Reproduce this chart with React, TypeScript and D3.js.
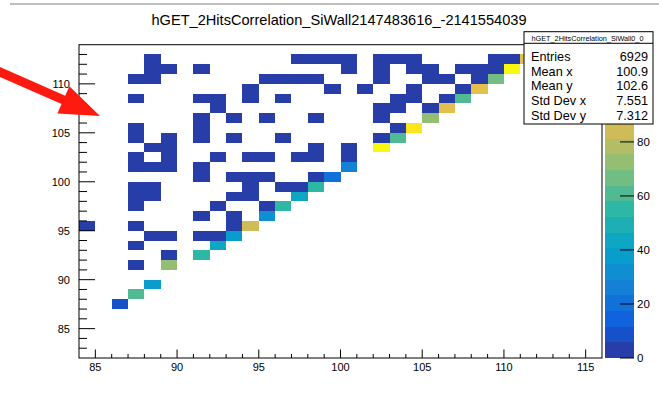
import React from "react";
import * as d3 from "d3";

// ---- histogram description ----
const titleText = "hGET_2HitsCorrelation_SiWall2147483616_-2141554039";
const statsName = "hGET_2HitsCorrelation_SiWall0_0";
const statsLabels = ["Entries", "Mean x", "Mean y", "Std Dev x", "Std Dev y"];
const statsValues = ["6929", "100.9", "102.6", "7.551", "7.312"];

const xDomain = [84, 116];
const yDomain = [82, 114];
const zMax = 116;
const nContours = 20;
const xTickValues = [85, 90, 95, 100, 105, 110, 115];
const yTickValues = [85, 90, 95, 100, 105, 110];
const zTickValues = [0, 20, 40, 60, 80, 100];

// Populated bins with large counts (lower bin edges x, y and content)
const hotX = [86, 87, 88, 89, 91, 92, 93, 94, 95, 96, 97, 98, 99, 100, 102, 103, 104, 105, 106, 107, 108, 109, 110, 111];
const hotY = [87, 88, 89, 91, 92, 93, 94, 95, 96, 97, 98, 99, 100, 101, 103, 104, 105, 106, 107, 108, 109, 110, 111, 112];
const hotN = [9, 61, 38, 73, 54, 43, 39, 84, 32, 55, 44, 56, 20, 26, 116, 60, 107, 72, 89, 62, 90, 67, 113, 91];

// Sparsely populated bins: one row of y per entry, listing the filled x bins
const sparseRowY = [112, 111, 110, 109, 108, 107, 106, 105, 104, 103, 102, 101, 100, 99, 98, 97, 96, 95, 94, 93, 92, 91];
const sparseRowX = [
  [88, 97, 98, 99, 100, 102, 103, 104, 109, 110],
  [88, 89, 91, 100, 102, 104, 105, 107, 108, 109],
  [87, 88, 95, 96, 97, 98, 102, 105, 106, 108],
  [94, 99, 101, 104, 107],
  [87, 91, 92, 94, 96, 103, 104, 106],
  [92, 102, 103, 105],
  [91, 93, 95, 98, 102],
  [87, 91, 103],
  [87, 89, 91, 93, 96, 102],
  [88, 89, 98, 100],
  [87, 89, 92, 94, 95, 97, 98, 100],
  [87, 88, 89, 91],
  [91, 93, 94, 95, 98],
  [87, 88, 94, 96, 97],
  [87, 88, 93, 94],
  [87, 92, 95],
  [91, 93],
  [84, 87, 93],
  [88, 89, 91, 92],
  [87],
  [89],
  [87],
];
const sparseN = 2;

// kBird palette stops
const birdStops = [0.0, 0.125, 0.25, 0.375, 0.5, 0.625, 0.75, 0.875, 1.0];
const birdRed = [0.2082, 0.0592, 0.078, 0.0232, 0.1802, 0.5301, 0.8186, 0.9956, 0.9764];
const birdGreen = [0.1664, 0.3599, 0.5041, 0.6419, 0.7178, 0.7492, 0.7328, 0.7862, 0.9832];
const birdBlue = [0.5293, 0.8684, 0.8385, 0.7914, 0.6425, 0.4662, 0.3499, 0.1968, 0.0539];

type Cell = { x: number; y: number; n: number };

const cells: Cell[] = [];
sparseRowY.forEach((y, i) => sparseRowX[i].forEach((x) => cells.push({ x, y, n: sparseN })));
hotX.forEach((x, i) => cells.push({ x, y: hotY[i], n: hotN[i] }));

const W = 659;
const H = 396;
const frame = { left: 79, right: 602, top: 44.7, bottom: 358 };
const bar = { left: 605, right: 634 };
const FONT = "'Liberation Sans', Arial, Helvetica, sans-serif";

export default function App() {
  const xScale = d3.scaleLinear().domain(xDomain).range([frame.left, frame.right]);
  const yScale = d3.scaleLinear().domain(yDomain).range([frame.bottom, frame.top]);
  const zScale = d3.scaleLinear().domain([0, zMax]).range([frame.bottom, frame.top]);

  const palette = d3
    .scaleLinear<string>()
    .domain(birdStops)
    .range(birdStops.map((_, i) => d3.rgb(birdRed[i] * 255, birdGreen[i] * 255, birdBlue[i] * 255).toString()))
    .interpolate(d3.interpolateRgb);
  const bandOf = d3.scaleQuantize<number>().domain([0, zMax]).range(d3.range(nContours));
  const bandColor = (b: number) => palette(Math.floor(((b + 0.99) * 255) / nContours) / 255);

  const xMinor = d3.range(xDomain[0] + 1, xDomain[1]);
  const yMinor = d3.range(yDomain[0] + 1, yDomain[1]);
  const bands = d3.range(nContours);
  const bandStep = zMax / nContours;

  const statsBox = { left: 524, right: 653, top: 31.7, bottom: 124, sep: 43.3 };
  const statsBaselines = [61, 75.5, 90, 105, 120];
  // palette labels hidden under the statistics box are not written
  const zLabelValues = zTickValues.filter((v) => zScale(v) - 5 > statsBox.bottom);

  // annotation arrow
  const tail = [0, 72];
  const tip = [100, 116];
  const dx = tip[0] - tail[0];
  const dy = tip[1] - tail[1];
  const len = Math.hypot(dx, dy);
  const ux = dx / len, uy = dy / len;
  const px = -uy, py = ux;
  const headLen = 40, headHalf = 15, shaftHalf = 4.5;
  const bx = tip[0] - ux * headLen, by = tip[1] - uy * headLen;
  const arrowPts = [
    [tail[0] + px * shaftHalf - ux * 20, tail[1] + py * shaftHalf - uy * 20],
    [bx + px * shaftHalf, by + py * shaftHalf],
    [bx + px * headHalf, by + py * headHalf],
    tip,
    [bx - px * headHalf, by - py * headHalf],
    [bx - px * shaftHalf, by - py * shaftHalf],
    [tail[0] - px * shaftHalf - ux * 20, tail[1] - py * shaftHalf - uy * 20],
  ];

  return (
    <div style={{ position: "fixed", left: 0, top: 0, width: W, height: H, background: "#fff" }}>
      <svg width={W} height={H} style={{ display: "block" }} fontFamily={FONT}>
        <rect x={0} y={0} width={W} height={H} fill="#fff" />
        <line x1={10} x2={W} y1={4} y2={4} stroke="#a8a8a8" strokeWidth={1.5} />

        <text x={339} y={25} fontSize={14.6} textAnchor="middle" fill="#000">
          {titleText}
        </text>

        {/* bins */}
        <g shapeRendering="crispEdges">
          {cells.map((c, i) => (
            <rect
              key={i}
              x={xScale(c.x)}
              y={yScale(c.y + 1)}
              width={xScale(c.x + 1) - xScale(c.x)}
              height={yScale(c.y) - yScale(c.y + 1)}
              fill={bandColor(bandOf(c.n))}
            />
          ))}
        </g>

        {/* frame */}
        <rect
          x={frame.left}
          y={frame.top}
          width={frame.right - frame.left}
          height={frame.bottom - frame.top}
          fill="none"
          stroke="#000"
          strokeWidth={1}
        />

        {/* x axis */}
        <g stroke="#000" strokeWidth={1}>
          {xMinor.map((v) => (
            <line
              key={v}
              x1={xScale(v)}
              x2={xScale(v)}
              y1={frame.bottom}
              y2={frame.bottom - (v % 5 === 0 ? 8.5 : 4)}
            />
          ))}
        </g>
        {xTickValues.map((v) => (
          <text key={v} x={xScale(v)} y={371} fontSize={11} textAnchor="middle" fill="#000">
            {v}
          </text>
        ))}

        {/* y axis */}
        <g stroke="#000" strokeWidth={1}>
          {yMinor.map((v) => (
            <line
              key={v}
              x1={frame.left}
              x2={frame.left + (v % 5 === 0 ? 16 : 8)}
              y1={yScale(v)}
              y2={yScale(v)}
            />
          ))}
        </g>
        {yTickValues.map((v) => (
          <text key={v} x={70} y={yScale(v) + 4} fontSize={11} textAnchor="end" fill="#000">
            {v}
          </text>
        ))}

        {/* colour scale */}
        <g shapeRendering="crispEdges">
          {bands.map((b) => (
            <rect
              key={b}
              x={bar.left}
              y={zScale((b + 1) * bandStep)}
              width={bar.right - bar.left}
              height={zScale(b * bandStep) - zScale((b + 1) * bandStep)}
              fill={bandColor(b)}
            />
          ))}
        </g>
        <g stroke="#000" strokeWidth={1}>
          {zTickValues.map((v) => (
            <line key={v} x1={bar.right - 14} x2={bar.right} y1={zScale(v)} y2={zScale(v)} />
          ))}
        </g>
        {zLabelValues.map((v) => (
          <text key={v} x={bar.right + 3} y={zScale(v) + 4} fontSize={11.5} fill="#000">
            {v}
          </text>
        ))}

        {/* statistics box */}
        <rect
          x={statsBox.left}
          y={statsBox.top}
          width={statsBox.right - statsBox.left}
          height={statsBox.bottom - statsBox.top}
          fill="#fff"
          stroke="#000"
          strokeWidth={1}
        />
        <line x1={statsBox.left} x2={statsBox.right} y1={statsBox.sep} y2={statsBox.sep} stroke="#000" strokeWidth={1} />
        <text
          x={531.5}
          y={40.5}
          fontSize={7.5}
          textLength={112}
          lengthAdjust="spacingAndGlyphs"
          fill="#000"
        >
          {statsName}
        </text>
        {statsLabels.map((s, i) => (
          <text key={s} x={531} y={statsBaselines[i]} fontSize={12.7} fill="#000">
            {s}
          </text>
        ))}
        {statsValues.map((s, i) => (
          <text key={i} x={648} y={statsBaselines[i]} fontSize={12.7} textAnchor="end" fill="#000">
            {s}
          </text>
        ))}

        {/* arrow */}
        <polygon points={arrowPts.map((p) => p.join(",")).join(" ")} fill="#ff1a0f" />
      </svg>
    </div>
  );
}
